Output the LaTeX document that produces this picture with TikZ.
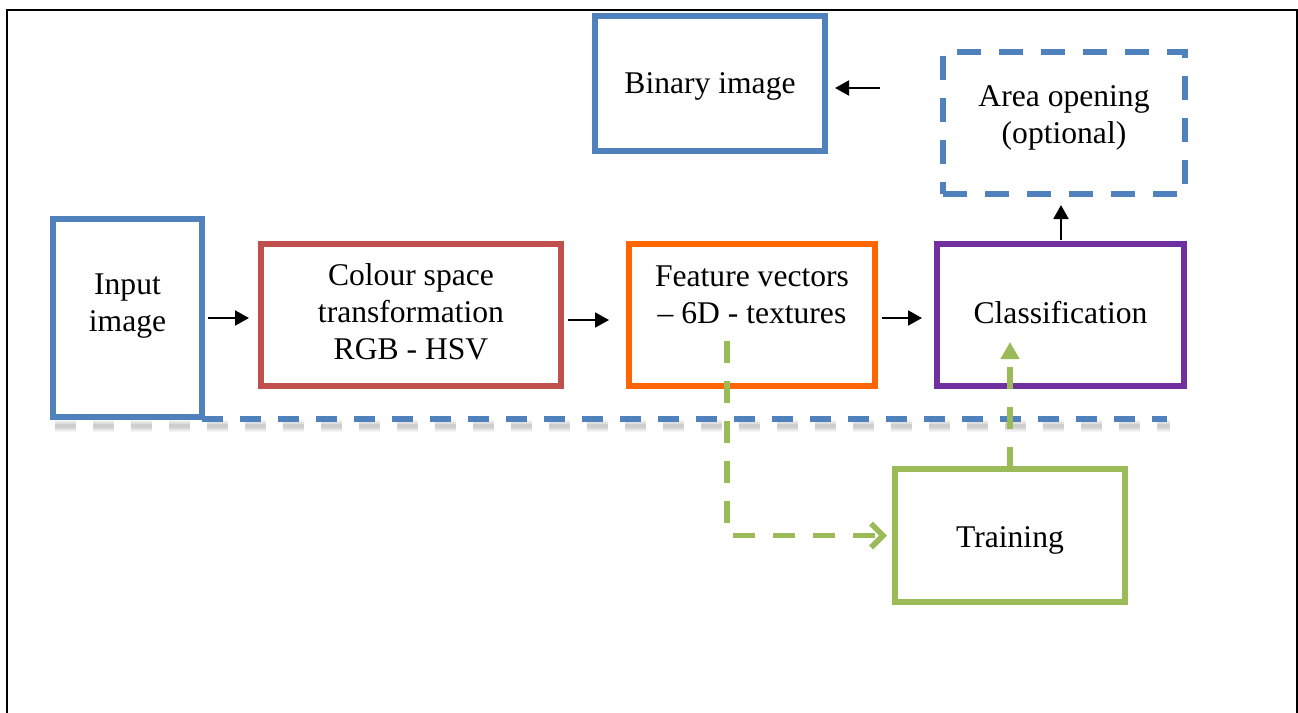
\documentclass[tikz,border=0pt]{standalone}
\usepackage{fontspec}
\setmainfont{Liberation Serif}
\usetikzlibrary{arrows.meta}
\definecolor{cblue}{HTML}{4F81BD}
\definecolor{cred}{HTML}{C0504D}
\definecolor{corange}{HTML}{FF6600}
\definecolor{cpurple}{HTML}{7030A0}
\definecolor{cgreen}{HTML}{9BBB59}
\begin{document}
\begin{tikzpicture}[x=0.5pt,y=-0.5pt,
  box/.style={draw, line width=3pt, inner sep=0pt, outer sep=0pt, align=center,
    font=\fontsize{15.8}{18.5}\selectfont},
  txt/.style={align=center, inner sep=0pt, font=\fontsize{15.8}{18.5}\selectfont},
  arr/.style={draw=black, line width=1pt, -{Triangle[length=7pt,width=7.5pt]}},
  bdash/.style={draw=cblue, line width=3pt, dash pattern=on 10.5pt off 8.5pt},
  shadowline/.style={draw=black, dash pattern=on 10.5pt off 8.5pt},
  gdash/.style={draw=cgreen, line width=2.8pt, dash pattern=on 11pt off 9pt}]
\useasboundingbox (0,0) rectangle (1298,713);
% frame
\draw[line width=1pt] (7,713) -- (7,10) -- (1297,10) -- (1297,713);
% boxes
\node[box, draw=cblue, minimum width=115pt, minimum height=67.5pt] (binary) at (710,83.5) {};
\node[txt] (binarytxt) at (710,86) {Binary image};
\node[box, draw=cblue, dash pattern=on 12pt off 9pt, minimum width=121pt, minimum height=71pt] (area) at (1064,123) {};
\node[txt] (areatxt) at (1064,118) {Area opening\\(optional)};
\coordinate (bend) at (1167,419);
% soft shadow under the dashed line
\draw[shadowline, opacity=0.05, line width=6pt] (55,426) -- (1170,426);
\draw[shadowline, opacity=0.08, line width=4pt] (55,426) -- (1170,426);
\draw[shadowline, opacity=0.08, line width=2pt] (55,426) -- (1170,426);
\node[box, draw=cblue, minimum width=74.5pt, minimum height=99pt] (input) at (127.5,318) {};
\node[txt] (inputtxt) at (127.5,306) {Input\\image};
\node[box, draw=cred, minimum width=150pt, minimum height=71pt] (colour) at (411,315) {};
\node[txt] (colourtxt) at (411,312) {Colour space\\transformation\\RGB - HSV};
\node[box, draw=corange, minimum width=123pt, minimum height=71pt] (feature) at (752,315) {};
\node[txt] (featuretxt) at (752,295) {Feature vectors\\– 6D - textures};
\node[box, draw=cpurple, minimum width=123.5pt, minimum height=71pt] (class) at (1060.5,315) {};
\node[txt] (classtxt) at (1060.5,313) {Classification};
\node[box, draw=cgreen, minimum width=115pt, minimum height=66.5pt] (training) at (1010,535.5) {};
\node[txt] (trainingtxt) at (1010,540) {Training};
% blue dashed line
\draw[bdash] (input.south east |- bend) -- (bend);
% black arrows
\draw[arr, shorten <=3pt, shorten >=6pt] (input.east |- 0,318) -- (colour.west |- 0,318);
\draw[arr, shorten <=3.5pt, shorten >=10pt] (colour.east |- 0,320) -- (feature.west |- 0,320);
\draw[arr, shorten <=3.5pt, shorten >=7.5pt] (feature.east |- 0,318) -- (class.west |- 0,318);
\draw[arr, shorten <=2pt, shorten >=5.5pt] (class.north -| 1061,0) -- (area.south -| 1061,0);
\draw[arr, shorten <=31.5pt, shorten >=5pt] (area.west |- 0,88) -- (binary.east |- 0,88);
% green connectors
\coordinate (gstart) at (727,341);
\draw[gdash, -{Straight Barb[length=6pt,width=12pt,line width=2.8pt]}, shorten >=4pt] (gstart) |- (training.west);
\draw[gdash, -{Triangle[length=8.5pt,width=9pt]}] (training.north) -- (training.north |- 0,342);
\end{tikzpicture}
\end{document}
